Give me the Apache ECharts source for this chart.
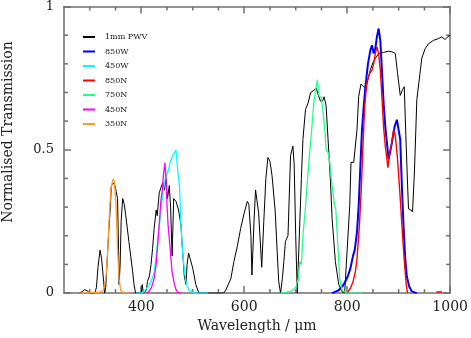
<!DOCTYPE html>
<html>
<head>
<meta charset="utf-8">
<script src="https://cdn.jsdelivr.net/npm/echarts@6/dist/echarts.min.js"></script>
<style>
  html, body { margin: 0; padding: 0; background: #fff; }
  #main { width: 471px; height: 338px; }
</style>
</head>
<body>
<div id="main"></div>
<script>
// [wavelength (um), normalised transmission]
const pwv1mm = [[280,0],[285,0.005],[290,0.012],[295,0.008],[300,0],[310,0],[313,0.02],[316,0.09],[320,0.15],[323,0.12],[327,0.04],[329,0],
  [331,0.02],[334,0.12],[337,0.22],[340,0.30],[342,0.375],[346,0.385],[349,0.375],[352,0.38],[354,0.33],[356,0.15],[357,0.03],
  [359,0.10],[361,0.25],[364,0.33],[367,0.31],[370,0.27],[376,0.18],[383,0.08],[386,0.03],[389,0],[400,0],[402,0.03],[404,0],
  [410,0.01],[412,0.04],[416,0.06],[419,0.10],[422,0.155],[425,0.225],[429,0.29],[431,0.27],[435,0.35],[438,0.355],[441.6,0.386],
  [445,0.36],[448,0.40],[451,0.33],[454.5,0.375],[457,0.30],[460,0.13],[463,0.33],[467.5,0.32],[472.5,0.29],[477,0.24],[480,0.155],
  [483.6,0.06],[487,0.03],[489,0.10],[492,0.14],[495,0.12],[500,0.087],[506,0.03],[512,0],[560,0],[564,0.01],[574,0.05],[580,0.11],
  [587,0.167],[593,0.225],[600,0.28],[606,0.32],[609,0.31],[613,0.20],[615,0.063],[619,0.25],[622,0.36],[625,0.366],[628,0.28],
  [634,0.09],[638,0.25],[642,0.40],[646,0.473],[650,0.46],[654,0.41],[660,0.29],[664,0.145],[667,0.04],[670.6,0],[674,0.05],
  [677,0.11],[680,0.18],[685,0.20],[690,0.48],[694.5,0.513],[697,0.45],[700,0.20],[703,0],[706,0.15],[711,0.40],[714,0.536],
  [719,0.64],[724,0.663],[729,0.70],[735,0.707],[740,0.715],[744,0.69],[748,0.67],[752,0.67],[755,0.685],[759,0.655],[761,0.65],
  [764,0.50],[767.6,0.386],[770.7,0.26],[777,0.11],[783.6,0.03],[790,0.005],[795,0],[799.7,0.144],[804.9,0.305],[807.4,0.456],
  [812.6,0.456],[815.9,0.456],[819,0.57],[822.3,0.686],[826.8,0.73],[830.6,0.725],[835.3,0.715],[838.4,0.73],[845,0.78],[851.4,0.81],
  [861,0.836],[870.7,0.84],[880.4,0.844],[886.8,0.842],[893.4,0.836],[897.8,0.767],[903,0.69],[907.5,0.71],[910.8,0.72],[913.9,0.55],
  [917.2,0.38],[919.1,0.294],[923.6,0.29],[926.9,0.283],[930.7,0.43],[935.2,0.675],[939.8,0.744],[944.9,0.82],[951.4,0.853],
  [957.8,0.87],[967.5,0.882],[977.2,0.888],[983.5,0.894],[990.1,0.885],[996,0.895],[1000,0.9]];

const f850W = [[770.7,0],[783.6,0.01],[793.3,0.03],[801.1,0.058],[806.3,0.087],[811.3,0.13],[814.6,0.15],[819,0.213],[822.3,0.305],
  [825.6,0.444],[828.7,0.57],[832,0.65],[835.3,0.72],[840.3,0.80],[845,0.848],[848.1,0.865],[851.4,0.836],[854.6,0.853],[857.7,0.894],
  [861,0.923],[864.3,0.882],[867.4,0.778],[870.7,0.663],[874,0.58],[877.1,0.525],[880.4,0.467],[883.7,0.496],[886.8,0.525],[892,0.58],
  [896.5,0.605],[899.8,0.605],[903,0.536],[906.1,0.375],[909.4,0.236],[912.7,0.12],[915.8,0.058],[920.4,0.023],[925.5,0.006],[935,0]];

const f450W = [[390,0],[400,0],[405,0.005],[412,0.02],[419,0.04],[425.5,0.075],[432,0.18],[438.5,0.294],[443,0.363],[447,0.40],
  [451,0.42],[454.5,0.44],[456,0.456],[458,0.45],[461,0.48],[464.5,0.478],[467.5,0.50],[471,0.425],[474.5,0.37],[477,0.24],
  [480,0.15],[484,0.075],[488,0.03],[493,0.01],[503,0],[530,0]];

const f850N = [[799.7,0],[806.3,0.017],[811.3,0.04],[815.9,0.075],[819,0.12],[823.7,0.236],[827.6,0.375],[830.6,0.513],[833.9,0.65],
  [838.4,0.738],[843.6,0.767],[848.1,0.778],[851.4,0.80],[854.6,0.836],[857.7,0.86],[861,0.836],[864.3,0.778],[867.4,0.686],
  [870.7,0.58],[874,0.513],[877.1,0.467],[879,0.438],[882.4,0.49],[885.6,0.513],[890.1,0.57],[893.4,0.55],[897.8,0.467],[903,0.33],
  [907.5,0.2],[911.4,0.1],[914.6,0.03],[917.2,0],[945,'-'],[973,0.004],[984,0.004]];

const f750N = [[670,0],[690,0.005],[700,0.02],[705,0.05],[708,0.11],[711,0.10],[714,0.2],[719,0.30],[723,0.40],[727,0.49],[731,0.57],
  [735,0.66],[738,0.70],[742,0.744],[745,0.69],[750,0.68],[754,0.617],[757,0.56],[759,0.50],[763,0.49],[766,0.46],[769,0.40],
  [775.5,0.305],[778,0.29],[782,0.16],[785.5,0.05],[790,0.01],[800,0],[830,0]];

const f450N = [[410,0],[415,0.005],[420,0.02],[425,0.05],[429,0.10],[432,0.17],[435,0.24],[438,0.32],[441,0.36],[443,0.41],[446,0.455],
  [448,0.40],[450,0.31],[452,0.24],[455,0.18],[459.8,0.075],[464.5,0.03],[468,0.01],[471,0.002],[478,0]];

const f350N = [[280,0],[300,0.002],[320,0.003],[327,0.01],[332,0.063],[335,0.155],[338,0.27],[341,0.363],[345,0.398],[348,0.39],
  [351,0.305],[354,0.155],[357,0.05],[360,0.01],[366,0],[378,0]];

const names = ['1mm PWV', '850W', '450W', '850N', '750N', '450N', '350N'];
const colors = ['#000000', '#0000ff', '#00ffff', '#ff0000', '#22ff88', '#ff00ff', '#ff9a2e'];
const widths = [1, 2, 1.3, 1.4, 1.3, 1.3, 1.3];
const curves = [pwv1mm, f850W, f450W, f850N, f750N, f450N, f350N];

const xMajor = [400, 600, 800, 1000];
const yMajor = [0, 0.5, 1];
const xMinor = [300, 350, 450, 500, 550, 650, 700, 750, 850, 900, 950];
const yMinor = [0.1, 0.2, 0.3, 0.4, 0.6, 0.7, 0.8, 0.9];

const serifFont = '"DejaVu Serif", serif';

const myChart = echarts.init(document.getElementById('main'));

function makeX(pos, withLabels) {
  return {
    type: 'value', position: pos, min: 250, max: 1000,
    axisLine: { show: true, onZero: false, lineStyle: { color: '#707070', width: 1.5 } },
    axisTick: { show: true, inside: true, length: 7, customValues: xMajor, lineStyle: { color: '#707070', width: 1.5 } },
    axisLabel: withLabels
      ? { show: true, customValues: xMajor, margin: 7, color: '#222', fontSize: 14, fontFamily: serifFont, formatter: v => String(v) }
      : { show: false },
    splitLine: { show: false },
    name: withLabels ? 'Wavelength / \u03bcm' : '',
    nameLocation: 'middle', nameGap: 22,
    nameTextStyle: { color: '#222', fontSize: 14, fontFamily: serifFont }
  };
}

function makeY(pos, withLabels) {
  return {
    type: 'value', position: pos, min: 0, max: 1,
    axisLine: { show: true, onZero: false, lineStyle: { color: '#707070', width: 1.5 } },
    axisTick: { show: true, inside: true, length: 7, customValues: yMajor, lineStyle: { color: '#707070', width: 1.5 } },
    axisLabel: withLabels
      ? { show: true, customValues: yMajor, margin: 10, color: '#222', fontSize: 13, fontFamily: serifFont, formatter: v => String(v) }
      : { show: false },
    splitLine: { show: false }
  };
}

const option = {
  animation: false,
  grid: { left: 64, right: 18.5, top: 6.5, bottom: 43 },
  legend: {
    orient: 'vertical', left: 78, top: 27,
    icon: 'rect', itemWidth: 12, itemHeight: 2, itemGap: 4.5,
    data: names,
    textStyle: { color: '#222', fontSize: 8, lineHeight: 10, fontFamily: serifFont, padding: [0, 0, 0, 5] }
  },
  graphic: [{
    type: 'text', x: 8, y: 132, rotation: Math.PI / 2,
    style: { text: 'Normalised Transmission', fill: '#222', font: '14px ' + serifFont, align: 'center', verticalAlign: 'middle' }
  }],
  xAxis: [makeX('bottom', true), makeX('top', false)],
  yAxis: [makeY('left', true), makeY('right', false)],
  series: names.map((n, i) => ({
    name: n, type: 'line', xAxisIndex: 0, yAxisIndex: 0,
    data: curves[i], showSymbol: false, symbol: 'none',
    connectNulls: false,
    color: colors[i],
    lineStyle: { color: colors[i], width: widths[i] }
  }))
};

// short ticks on all four sides, placed through the axes
option.series.push({
  type: 'custom', xAxisIndex: 0, yAxisIndex: 0, silent: true, clip: false,
  data: xMinor.map(v => [v]),
  renderItem: (params, api) => {
    const x = api.coord([api.value(0), 0])[0];
    const yb = api.coord([250, 0])[1];
    const yt = api.coord([250, 1])[1];
    return { type: 'group', children: [
      { type: 'line', shape: { x1: x, y1: yb, x2: x, y2: yb - 4 }, style: { stroke: '#707070', lineWidth: 1.5 } },
      { type: 'line', shape: { x1: x, y1: yt, x2: x, y2: yt + 4 }, style: { stroke: '#707070', lineWidth: 1.5 } }
    ] };
  }
});
option.series.push({
  type: 'custom', xAxisIndex: 0, yAxisIndex: 0, silent: true, clip: false,
  data: yMinor.map(v => [v]),
  renderItem: (params, api) => {
    const y = api.coord([250, api.value(0)])[1];
    const xl = api.coord([250, 0])[0];
    const xr = api.coord([1000, 0])[0];
    return { type: 'group', children: [
      { type: 'line', shape: { x1: xl, y1: y, x2: xl + 4, y2: y }, style: { stroke: '#707070', lineWidth: 1.5 } },
      { type: 'line', shape: { x1: xr, y1: y, x2: xr - 4, y2: y }, style: { stroke: '#707070', lineWidth: 1.5 } }
    ] };
  }
});

myChart.setOption(option);
</script>
</body>
</html>
